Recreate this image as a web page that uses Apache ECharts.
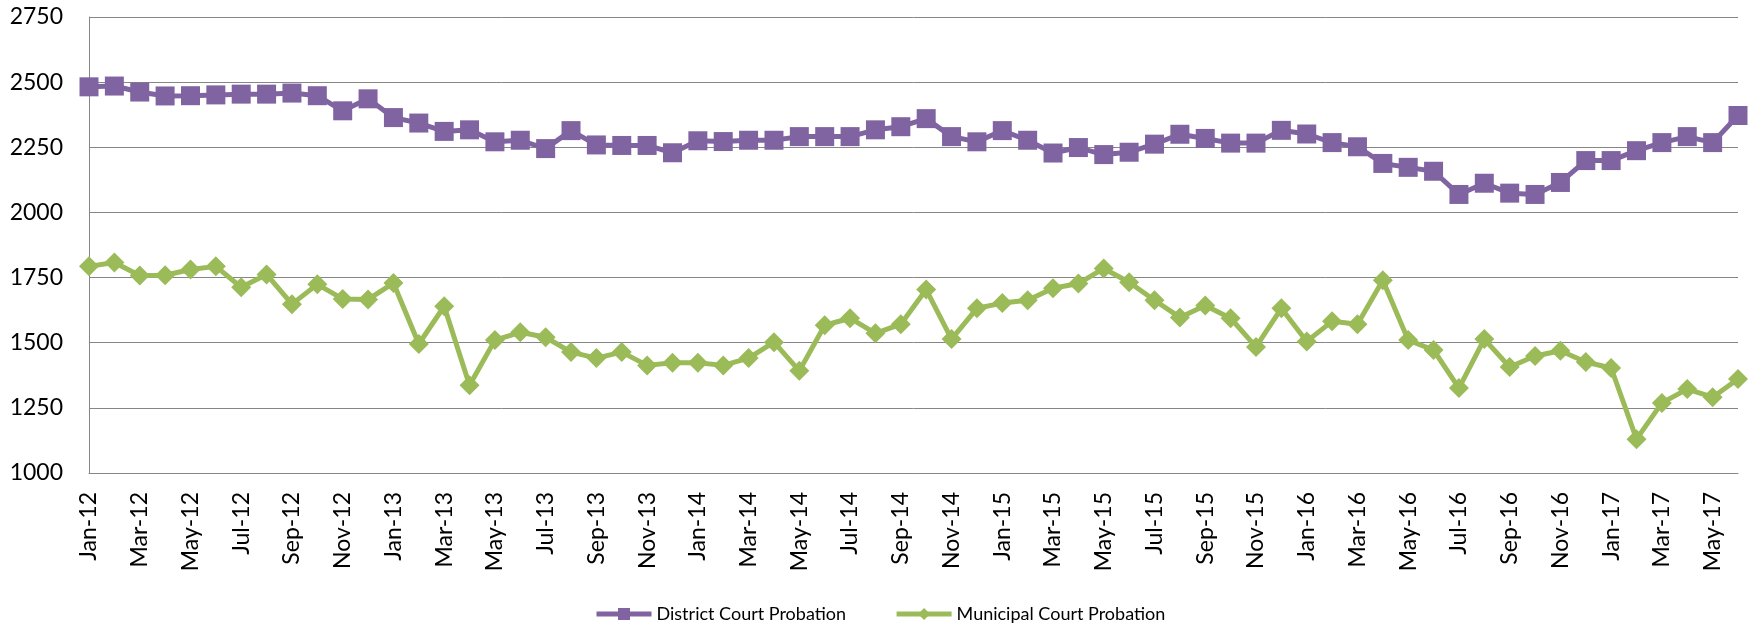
<!DOCTYPE html>
<html>
<head>
<meta charset="utf-8">
<script src="https://cdn.jsdelivr.net/npm/echarts@6/dist/echarts.min.js"></script>
<style>
  html, body { margin: 0; padding: 0; background: #fff; }
  #chart { width: 1750px; height: 624px; }
</style>
</head>
<body>
<div id="chart"></div>
<script>
// months Jan-12 .. Jun-17
var months = ['Jan-12','Feb-12','Mar-12','Apr-12','May-12','Jun-12','Jul-12','Aug-12','Sep-12','Oct-12','Nov-12','Dec-12',
  'Jan-13','Feb-13','Mar-13','Apr-13','May-13','Jun-13','Jul-13','Aug-13','Sep-13','Oct-13','Nov-13','Dec-13',
  'Jan-14','Feb-14','Mar-14','Apr-14','May-14','Jun-14','Jul-14','Aug-14','Sep-14','Oct-14','Nov-14','Dec-14',
  'Jan-15','Feb-15','Mar-15','Apr-15','May-15','Jun-15','Jul-15','Aug-15','Sep-15','Oct-15','Nov-15','Dec-15',
  'Jan-16','Feb-16','Mar-16','Apr-16','May-16','Jun-16','Jul-16','Aug-16','Sep-16','Oct-16','Nov-16','Dec-16',
  'Jan-17','Feb-17','Mar-17','Apr-17','May-17','Jun-17'];

var district = [2482, 2485, 2462, 2447, 2448, 2451, 2454, 2454, 2458, 2448, 2390, 2436,
  2364, 2343, 2311, 2317, 2271, 2277, 2245, 2314, 2259, 2257, 2257, 2229,
  2275, 2272, 2277, 2277, 2291, 2291, 2291, 2317, 2329, 2360, 2291, 2271,
  2314, 2277, 2228, 2249, 2222, 2231, 2262, 2300, 2284, 2266, 2266, 2315,
  2301, 2268, 2252, 2188, 2173, 2158, 2069, 2112, 2074, 2069, 2115, 2199,
  2199, 2237, 2268, 2291, 2268, 2372];

var municipal = [1793, 1808, 1758, 1759, 1781, 1793, 1713, 1762, 1648, 1724, 1668, 1666,
  1729, 1495, 1640, 1337, 1510, 1540, 1521, 1464, 1441, 1464, 1413, 1423,
  1423, 1413, 1441, 1502, 1392, 1567, 1594, 1536, 1571, 1704, 1514, 1632,
  1652, 1663, 1709, 1727, 1785, 1732, 1663, 1597, 1643, 1594, 1484, 1632,
  1505, 1582, 1571, 1740, 1510, 1472, 1326, 1514, 1407, 1449, 1469, 1426,
  1403, 1130, 1269, 1322, 1291, 1361];

var FONT = 'Lato';
var chart = echarts.init(document.getElementById('chart'));

chart.setOption({
  animation: false,
  textStyle: { fontFamily: FONT },
  grid: { left: 89, right: 12, top: 17, bottom: 151, containLabel: false },
  legend: {
    left: 589,
    top: 600,
    itemWidth: 55,
    itemHeight: 15,
    itemGap: 48,
    lineStyle: { width: 5 },
    textStyle: { fontFamily: FONT, fontSize: 18, color: '#000' },
    data: ['District Court Probation', 'Municipal Court Probation']
  },
  xAxis: {
    type: 'category',
    data: months,
    boundaryGap: false,
    axisLine: { lineStyle: { color: '#868686', width: 1 } },
    axisTick: { show: false },
    axisLabel: {
      interval: 1,
      rotate: 90,
      margin: 19,
      fontFamily: FONT,
      fontSize: 23,
      color: '#000'
    }
  },
  yAxis: {
    type: 'value',
    min: 1000,
    max: 2750,
    interval: 250,
    axisLine: { show: true, lineStyle: { color: '#868686', width: 1 } },
    axisTick: { show: false },
    splitLine: { lineStyle: { color: '#868686', width: 1 } },
    axisLabel: {
      margin: 26,
      fontFamily: FONT,
      fontSize: 23,
      color: '#000',
      formatter: function (v) { return String(v); }
    }
  },
  series: [
    {
      name: 'District Court Probation',
      type: 'line',
      data: district,
      symbol: 'rect',
      symbolSize: 19,
      showAllSymbol: true,
      lineStyle: { color: '#8064A2', width: 5 },
      itemStyle: { color: '#8064A2' }
    },
    {
      name: 'Municipal Court Probation',
      type: 'line',
      data: municipal,
      symbol: 'diamond',
      symbolSize: 20,
      showAllSymbol: true,
      lineStyle: { color: '#9BBB59', width: 5 },
      itemStyle: { color: '#9BBB59' }
    }
  ]
});
</script>
</body>
</html>
